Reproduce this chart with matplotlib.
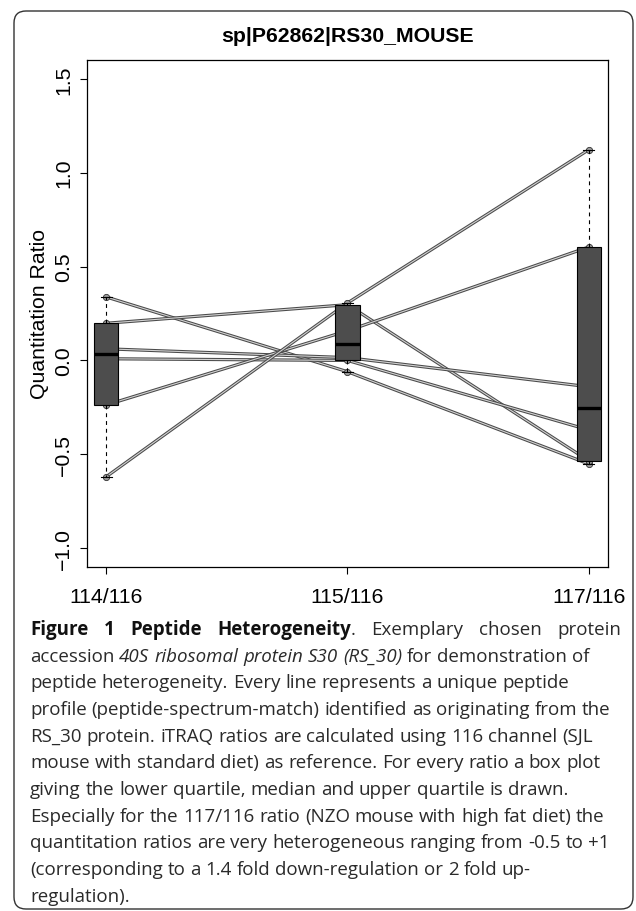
import re
import numpy as np
import matplotlib
matplotlib.use('Agg')
import matplotlib.pyplot as plt
import matplotlib.patheffects as pe
from matplotlib.patches import FancyBboxPatch
from matplotlib.transforms import IdentityTransform

plt.rcParams['font.family'] = ['Liberation Sans', 'DejaVu Sans']

ratios = ['114/116', '115/116', '117/116']
# one entry per peptide profile (peptide-spectrum-match)
pep_114 = [0.338, 0.198, 0.062, 0.009, -0.237, -0.619]
pep_115 = [-0.060, 0.297, 0.015, 0.000, 0.158, 0.306]
pep_117 = [-0.551, -0.534, -0.140, -0.370, 0.604, 1.122]
yticks = [-1.0, -0.5, 0.0, 0.5, 1.0, 1.5]
title = 'sp|P62862|RS30_MOUSE'
ylab = 'Quantitation Ratio'

# caption lines: (text, kind) with kind b=bold, n=normal, i=italic
caption = [
    [('Figure 1 Peptide Heterogeneity', 'b'), ('. Exemplary chosen protein', 'n')],
    [('accession ', 'n'), ('40S ribosomal protein S30 (RS_30)', 'i'), (' for demonstration of', 'n')],
    [('peptide heterogeneity. Every line represents a unique peptide', 'n')],
    [('profile (peptide-spectrum-match) identified as originating from the', 'n')],
    [('RS_30 protein. iTRAQ ratios are calculated using 116 channel (SJL', 'n')],
    [('mouse with standard diet) as reference. For every ratio a box plot', 'n')],
    [('giving the lower quartile, median and upper quartile is drawn.', 'n')],
    [('Especially for the 117/116 ratio (NZO mouse with high fat diet) the', 'n')],
    [('quantitation ratios are very heterogeneous ranging from -0.5 to +1', 'n')],
    [('(corresponding to a 1.4 fold down-regulation or 2 fold up-', 'n')],
    [('regulation).', 'n')],
]


def tukey_stats(vals):
    # R style boxplot.stats (fivenum hinges)
    x = np.sort(np.asarray(vals))
    n = len(x)
    n4 = np.floor((n + 3) / 2) / 2
    d = np.array([1, n4, (n + 1) / 2, n + 1 - n4, n]) - 1
    h = 0.5 * (x[np.floor(d).astype(int)] + x[np.ceil(d).astype(int)])
    iqr = h[3] - h[1]
    lo = x[x >= h[1] - 1.5 * iqr].min()
    hi = x[x <= h[3] + 1.5 * iqr].max()
    return dict(med=h[2], q1=h[1], q3=h[3], whislo=lo, whishi=hi, fliers=[])


W, H = 636, 912
fig = plt.figure(figsize=(W / 100, H / 100), dpi=100)
ax = fig.add_axes([87 / W, 1 - 568 / H, (608 - 87) / W, (568 - 61) / H])

xs = np.arange(1, 4)
profiles = np.array([pep_114, pep_115, pep_117]).T
for row in profiles:
    ax.plot(xs, row, color='#d2d2d2', lw=0.8, zorder=2,
            path_effects=[pe.Stroke(linewidth=2.3, foreground='#4a4a4a'), pe.Normal()])
    ax.plot(xs, row, 'o', ms=4.5, mfc='#9a9a9a', mec='#333333', mew=0.6, zorder=3)

stats = [tukey_stats(v) for v in (pep_114, pep_115, pep_117)]
ax.bxp(stats, positions=xs, widths=0.1, capwidths=0.045, showfliers=False,
       patch_artist=True, zorder=4,
       boxprops=dict(facecolor='#4d4d4d', edgecolor='black', lw=0.8),
       medianprops=dict(color='black', lw=2.4, solid_capstyle='butt'),
       whiskerprops=dict(color='black', lw=0.8, linestyle=(0, (3.5, 3.5))),
       capprops=dict(color='black', lw=0.8))

ax.set_xlim(0.92, 3.08)
ax.set_ylim(-1.1, 1.6)
ax.set_xticks(xs, ratios)
ax.set_yticks(yticks, [f'{t:.1f}'.replace('-', '\u2212') for t in yticks])
ax.tick_params(direction='out', length=5, width=0.8, labelsize=15.3)
ax.tick_params(axis='x', pad=9.5)
ax.tick_params(axis='y', pad=5, labelrotation=90)
for lbl in ax.get_yticklabels():
    lbl.set_va('center')
for s in ax.spines.values():
    s.set_linewidth(0.9)

fig.text(40 / W, 1 - 314 / H, ylab, rotation=90, ha='center', va='center', fontsize=15.3)
fig.text(347 / W, 1 - 36 / H, title, ha='center', va='center', fontsize=15.3, weight='bold')

# rounded frame round the whole figure
frame = FancyBboxPatch((14, 2), 619, 898, boxstyle='round,pad=0,rounding_size=12',
                       transform=IdentityTransform(), fill=False, ec='#333333', lw=1.0)
fig.add_artist(frame)

# caption, placed word by word
fig.canvas.draw()
renderer = fig.canvas.get_renderer()
fonts = {'b': dict(weight='bold', style='normal', color='#111111'),
         'n': dict(weight='normal', style='normal', color='#2a2a2a'),
         'i': dict(weight='normal', style='italic', color='#2a2a2a')}
cap_size = 13.5


def text_w(s, kind):
    t = fig.text(0, 0, s, family='Open Sans', size=cap_size, **fonts[kind])
    w = t.get_window_extent(renderer).width
    t.remove()
    return w


space_w = {k: text_w('n n', k) - text_w('nn', k) for k in fonts}
left, right = 30, 621
for k, line in enumerate(caption):
    base = 1 - (635 + 26.67 * k) / H
    tokens = []
    for s, kind in line:
        for m in re.finditer(r'\S+|\s+', s):
            tokens.append((m.group(), kind))
    words = [(t, kd) for t, kd in tokens if not t.isspace()]
    widths = [text_w(t, kd) for t, kd in words]
    n_gaps = sum(1 for t, kd in tokens if t.isspace())
    gap = None
    if k == 0 and n_gaps:
        gap = (right - left - sum(widths)) / n_gaps
    x = left
    wi = 0
    for t, kd in tokens:
        if t.isspace():
            x += gap if gap is not None else space_w[kd]
            continue
        fig.text(x / W, base, t, family='Open Sans', size=cap_size, va='baseline', **fonts[kd])
        x += widths[wi]
        wi += 1

fig.savefig('out.png', dpi=100)
